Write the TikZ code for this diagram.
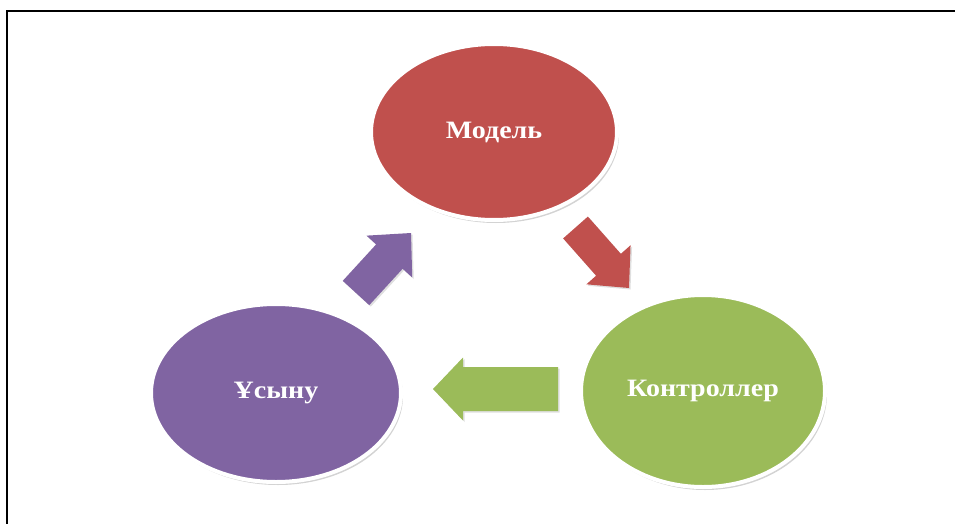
\documentclass[tikz,border=0pt]{standalone}
\usepackage{fontspec}
\setmainfont{Liberation Serif}
\usetikzlibrary{shapes.geometric,shadows,calc}
\definecolor{mred}{HTML}{C0504D}
\definecolor{mgreen}{HTML}{9BBB59}
\definecolor{mpurple}{HTML}{8064A2}
\newcommand\mvcarrow[6]{% tail, tip, head length, shaft half, head half, colour
  \coordinate (hb) at ($(#2)!#3pt!(#1)$);
  \fill[#6, drop shadow={opacity=0.25,shadow xshift=1.5pt,shadow yshift=-1.5pt}]
    ($(#1)!#4pt!90:(#2)$) -- ($(hb)!#4pt!-90:(#1)$) -- ($(hb)!#5pt!-90:(#1)$) -- (#2)
    -- ($(hb)!#5pt!90:(#1)$) -- ($(hb)!#4pt!90:(#1)$) -- ($(#1)!#4pt!-90:(#2)$) -- cycle;
}
\tikzset{
  phase/.style={ellipse, draw=white, line width=4pt, text=white,
    font=\bfseries\fontsize{25}{28}\selectfont, inner sep=0pt,
    drop shadow={opacity=0.35, shadow xshift=2pt, shadow yshift=-3pt}},
  frameline/.style={line width=1.6pt, black}
}
\begin{document}
\begin{tikzpicture}[x=1pt,y=-1pt]
\useasboundingbox (0,0) rectangle (955,524);
\draw[frameline] (7,524) -- (7,11) -- (955,11);
\node[phase, fill=mred, minimum width=246pt, minimum height=176pt] (model) at (494,132)
  {\scalebox{1.12}[1]{Модель}};
\node[phase, fill=mpurple, minimum width=250pt, minimum height=178pt] (view) at (276,393)
  {\scalebox{1.12}[1]{Ұсыну}};
\node[phase, fill=mgreen, minimum width=244pt, minimum height=192pt] (ctrl) at (703,391)
  {\scalebox{1.12}[1]{Контроллер}};
% arrows
\coordinate (ptail) at (356,293); \coordinate (ptip) at (411,233);
\coordinate (rtail) at (575.5,227.5); \coordinate (rtip) at (629,288);
\coordinate (gtail) at (558,389); \coordinate (gtip) at (433,389);
\mvcarrow{ptail}{ptip}{32}{18}{31}{mpurple}
\mvcarrow{rtail}{rtip}{31}{16.5}{29.5}{mred}
\mvcarrow{gtail}{gtip}{30}{22}{31.5}{mgreen}
\end{tikzpicture}
\end{document}
